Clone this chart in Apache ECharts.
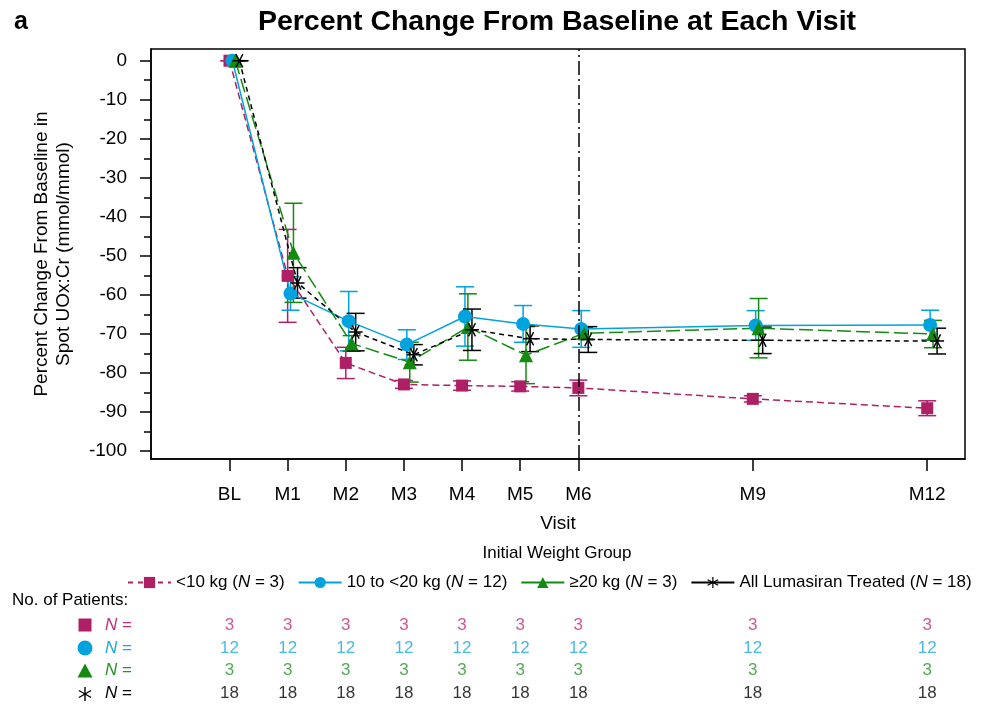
<!DOCTYPE html>
<html>
<head>
<meta charset="utf-8">
<style>
    html, body { margin: 0; padding: 0; background: #fff; }
    #main { width: 986px; height: 705px; }
</style>
<script src="https://cdn.jsdelivr.net/npm/echarts@6/dist/echarts.min.js"></script>
</head>
<body>
<div id="main"></div>
<script>
    // visits (months from baseline) and their tick labels
    var visitMonths = [0, 1, 2, 3, 4, 5, 6, 9, 12];
    var visitLabels = ['BL', 'M1', 'M2', 'M3', 'M4', 'M5', 'M6', 'M9', 'M12'];
    var yTicks = [0, -10, -20, -30, -40, -50, -60, -70, -80, -90, -100];
    var yMinorTicks = [-5, -15, -25, -35, -45, -55, -65, -75, -85, -95];

    // weight groups
    var groupNames = ['<10 kg', '10 to <20 kg', '\u226520 kg', 'All Lumasiran Treated'];
    var groupN = [3, 12, 3, 18];

    // mean percent change and error half-width per visit
    var meanLt10 = [0, -55.1, -77.4, -82.9, -83.2, -83.4, -83.8, -86.6, -89.0];
    var errLt10 = [0, 11.9, 4.0, 1.0, 1.2, 1.2, 2.0, 0.8, 1.9];
    var mean10to20 = [0, -59.6, -66.7, -72.7, -65.5, -67.4, -68.7, -67.8, -67.7];
    var err10to20 = [0, 4.3, 7.6, 3.8, 7.6, 4.7, 4.7, 3.8, 3.8];
    var meanGe20 = [0, -49.2, -72.4, -77.2, -68.2, -75.4, -69.8, -68.5, -70.0];
    var errGe20 = [0, 12.7, 2.0, 5.1, 8.5, 7.3, 1.5, 7.6, 3.5];
    var meanAll = [0, -56.9, -69.5, -75.3, -68.9, -71.2, -71.4, -71.6, -71.8];
    var errAll = [0, 3.9, 4.8, 2.6, 5.3, 3.3, 3.3, 3.4, 3.3];

    // number of patients per visit
    var nLt10 = [3, 3, 3, 3, 3, 3, 3, 3, 3];
    var n10to20 = [12, 12, 12, 12, 12, 12, 12, 12, 12];
    var nGe20 = [3, 3, 3, 3, 3, 3, 3, 3, 3];
    var nAll = [18, 18, 18, 18, 18, 18, 18, 18, 18];

    var FONT = "'Liberation Sans', Arial, Helvetica, sans-serif";
    var colors = ['#AE1F66', '#00A3DE', '#138A10', '#000000'];
    var textColors = ['#C0307A', '#1AA8E0', '#2A942A', '#000000'];
    var starPath = 'path://M9 0L11 0L11 20L9 20Z M0.84 5.87L1.84 4.13L19.16 14.13L18.16 15.87Z M1.84 15.87L0.84 14.13L18.16 4.13L19.16 5.87Z';
    var symbols = ['rect', 'circle', 'triangle', starPath];
    var symbolSizes = [12, 14, 14, 14];
    var dashes = [[7, 4], 'solid', [14, 5], [5, 4]];
    var legendDashes = [[5, 5], 'solid', 'solid', 'solid'];
    var offsets = [0, 0.05, 0.1, 0.17]; // horizontal jitter so the groups don't overlap
    var means = [meanLt10, mean10to20, meanGe20, meanAll];
    var errs = [errLt10, err10to20, errGe20, errAll];
    var counts = [nLt10, n10to20, nGe20, nAll];
    var xMin = -1.35, xMax = 12.65;

    function errorBarItem(color) {
        return function (params, api) {
            var x = api.value(0);
            var top = api.coord([x, api.value(2)]);
            var bot = api.coord([x, api.value(1)]);
            var hw = 9;
            var st = { stroke: color, lineWidth: 1.5 };
            return {
                type: 'group',
                children: [
                    { type: 'line', shape: { x1: top[0], y1: top[1], x2: bot[0], y2: bot[1] }, style: st },
                    { type: 'line', shape: { x1: top[0] - hw, y1: top[1], x2: top[0] + hw, y2: top[1] }, style: st },
                    { type: 'line', shape: { x1: bot[0] - hw, y1: bot[1], x2: bot[0] + hw, y2: bot[1] }, style: st }
                ]
            };
        };
    }

    var series = [];
    for (var g = 0; g < 4; g++) {
        var lineData = [], barData = [];
        for (var i = 0; i < visitMonths.length; i++) {
            var x = visitMonths[i] + offsets[g];
            lineData.push([x, means[g][i]]);
            barData.push([x, means[g][i] - errs[g][i], means[g][i] + errs[g][i]]);
        }
        series.push({
            name: groupNames[g] + '_err',
            type: 'custom',
            xAxisIndex: 0,
            yAxisIndex: 0,
            renderItem: errorBarItem(colors[g]),
            data: barData,
            silent: true,
            z: 2
        });
        var s = {
            name: groupNames[g],
            type: 'line',
            xAxisIndex: 0,
            yAxisIndex: 0,
            data: lineData,
            symbol: symbols[g],
            symbolSize: symbolSizes[g],
            symbolRotate: g === 3 ? 90 : 0,
            showAllSymbol: true,
            color: colors[g],
            itemStyle: { color: colors[g], opacity: 1 },
            lineStyle: { color: colors[g], width: 1.5, type: dashes[g] },
            emphasis: { disabled: true },
            animation: false,
            z: 3
        };
        if (g === 1) {
            s.markLine = {
                silent: true,
                symbol: 'none',
                label: { show: false },
                lineStyle: { color: '#000', width: 1.5, type: [14, 4, 2, 4] },
                data: [{ xAxis: visitMonths[6] }]
            };
        }
        series.push(s);
    }

    // patient counts table
    for (var r = 0; r < 4; r++) {
        var rowData = [];
        for (var j = 0; j < visitMonths.length; j++) {
            rowData.push([visitMonths[j], r, counts[r][j]]);
        }
        series.push({
            name: 'table' + r,
            type: 'scatter',
            xAxisIndex: 1,
            yAxisIndex: 2,
            data: rowData,
            symbol: 'circle',
            symbolSize: 1,
            itemStyle: { color: 'rgba(0,0,0,0)' },
            label: {
                show: true,
                position: 'inside',
                formatter: function (p) { return p.value[2]; },
                color: textColors[r],
                fontSize: 17,
                fontFamily: FONT
            },
            silent: true
        });
    }

    var rowKeys = ['r0', 'r1', 'r2', 'r3'];
    var rowRich = {};
    for (var k = 0; k < 4; k++) {
        rowRich['i' + k] = { fontStyle: 'italic', fontSize: 17, fontFamily: FONT, color: textColors[k] };
        rowRich['t' + k] = { fontSize: 17, fontFamily: FONT, color: textColors[k] };
    }
    var tableSymX = 85, tableRowY = [625, 648, 671, 694];

    var legendData = groupNames.map(function (nm, idx) {
        return { name: nm, lineStyle: { type: legendDashes[idx] } };
    });

    var option = {
        backgroundColor: '#fff',
        animation: false,
        textStyle: { fontFamily: FONT, color: '#000' },
        grid: [
            { left: 151, right: 21, top: 49, bottom: 246, show: true, borderColor: '#000', borderWidth: 1.5, backgroundColor: 'transparent' },
            { left: 151, right: 21, top: 613.5, height: 92 }
        ],
        legend: {
            data: legendData,
            left: 122,
            top: 569,
            itemWidth: 43,
            itemHeight: 14,
            itemGap: 13,
            symbolRotate: 0,
            formatter: function (name) {
                return name + ' ({i|N} = ' + groupN[groupNames.indexOf(name)] + ')';
            },
            textStyle: {
                fontSize: 17,
                fontFamily: FONT,
                color: '#000',
                rich: { i: { fontStyle: 'italic', fontSize: 17, fontFamily: FONT } }
            }
        },
        xAxis: [
            {
                type: 'value',
                gridIndex: 0,
                min: xMin,
                max: xMax,
                name: 'Visit',
                nameLocation: 'middle',
                nameGap: 55,
                nameTextStyle: { fontSize: 19, color: '#000', fontFamily: FONT },
                axisLine: { show: true, onZero: false, lineStyle: { color: '#000', width: 1.5 } },
                axisTick: { show: true, length: 12, customValues: visitMonths, lineStyle: { color: '#000', width: 1.5 } },
                axisLabel: {
                    customValues: visitMonths,
                    margin: 26,
                    fontSize: 19,
                    color: '#000',
                    fontFamily: FONT,
                    formatter: function (v) { return visitLabels[visitMonths.indexOf(v)]; }
                },
                splitLine: { show: false }
            },
            {
                type: 'value',
                gridIndex: 1,
                min: xMin,
                max: xMax,
                show: false
            }
        ],
        yAxis: [
            {
                type: 'value',
                gridIndex: 0,
                min: -102,
                max: 3,
                name: 'Percent Change From Baseline in\nSpot UOx:Cr (mmol/mmol)',
                nameLocation: 'middle',
                nameGap: 76,
                nameTextStyle: { fontSize: 19, lineHeight: 22, color: '#000', fontFamily: FONT },
                axisLine: { show: true, onZero: false, lineStyle: { color: '#000', width: 1.5 } },
                axisTick: { show: true, length: 11, customValues: yTicks, lineStyle: { color: '#000', width: 1.5 } },
                axisLabel: { customValues: yTicks, margin: 24, fontSize: 19, color: '#000', fontFamily: FONT },
                splitLine: { show: false }
            },
            {
                type: 'value',
                gridIndex: 0,
                position: 'left',
                offset: 0,
                min: -102,
                max: 3,
                axisLine: { show: false, onZero: false },
                axisTick: { show: true, length: 7, customValues: yMinorTicks, lineStyle: { color: '#000', width: 1.5 } },
                axisLabel: { show: false },
                splitLine: { show: false }
            },
            {
                type: 'category',
                gridIndex: 1,
                data: rowKeys,
                inverse: true,
                axisLine: { show: false },
                axisTick: { show: false },
                splitLine: { show: false },
                axisLabel: {
                    margin: 19,
                    fontSize: 17,
                    fontFamily: FONT,
                    formatter: function (v) {
                        var idx = rowKeys.indexOf(v);
                        return '{i' + idx + '|N}{t' + idx + '| =}';
                    },
                    rich: rowRich
                }
            }
        ],
        graphic: [
            { type: 'text', x: 557, y: 22, style: { text: 'Percent Change From Baseline at Each Visit', textAlign: 'center', textVerticalAlign: 'middle', fontSize: 28.5, fontWeight: 'bold', fontFamily: FONT, fill: '#000' } },
            { type: 'text', x: 14, y: 22, style: { text: 'a', textAlign: 'left', textVerticalAlign: 'middle', fontSize: 25, fontWeight: 'bold', fontFamily: FONT, fill: '#000' } },
            { type: 'text', x: 557, y: 553, style: { text: 'Initial Weight Group', textAlign: 'center', textVerticalAlign: 'middle', fontSize: 17, fontFamily: FONT, fill: '#000' } },
            { type: 'text', x: 12, y: 600, style: { text: 'No. of Patients:', textAlign: 'left', textVerticalAlign: 'middle', fontSize: 17, fontFamily: FONT, fill: '#000' } },
            { type: 'rect', shape: { x: tableSymX - 6.5, y: tableRowY[0] - 6.5, width: 13, height: 13 }, style: { fill: colors[0] } },
            { type: 'circle', shape: { cx: tableSymX, cy: tableRowY[1], r: 7.5 }, style: { fill: colors[1] } },
            { type: 'polygon', shape: { points: [[tableSymX, tableRowY[2] - 7.5], [tableSymX + 7.5, tableRowY[2] + 6.5], [tableSymX - 7.5, tableRowY[2] + 6.5]] }, style: { fill: colors[2] } },
            { type: 'group', x: tableSymX, y: tableRowY[3], children: [
                { type: 'line', shape: { x1: 0, y1: -7, x2: 0, y2: 7 }, style: { stroke: '#000', lineWidth: 1.4 } },
                { type: 'line', shape: { x1: -6.1, y1: -3.5, x2: 6.1, y2: 3.5 }, style: { stroke: '#000', lineWidth: 1.4 } },
                { type: 'line', shape: { x1: -6.1, y1: 3.5, x2: 6.1, y2: -3.5 }, style: { stroke: '#000', lineWidth: 1.4 } }
            ] }
        ],
        series: series
    };

    var chart = echarts.init(document.getElementById('main'), null, { renderer: 'canvas' });
    chart.setOption(option);
</script>
</body>
</html>
